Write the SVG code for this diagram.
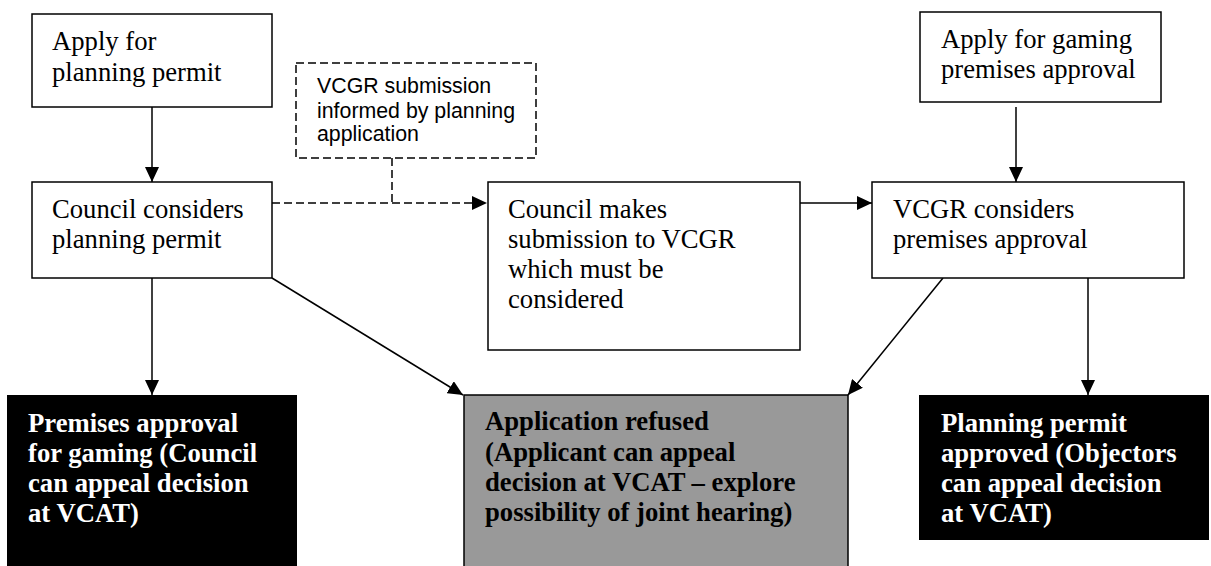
<svg xmlns="http://www.w3.org/2000/svg" width="1211" height="566" viewBox="0 0 1211 566">
<defs>
<marker id="ah" markerUnits="userSpaceOnUse" markerWidth="15" markerHeight="14" refX="15" refY="7" orient="auto">
<path d="M0,0 L15,7 L0,14 z" fill="#000"/>
</marker>
<style>
.box{fill:#fff;stroke:#000;stroke-width:1.5}
.dbox{fill:#fff;stroke:#000;stroke-width:1.5;stroke-dasharray:8 4}
.blk{fill:#000}
.gry{fill:#999;stroke:#000;stroke-width:1.5}
.t{font-family:"Liberation Serif","Times New Roman",serif;font-size:26.67px;fill:#000}
.tb{font-family:"Liberation Serif","Times New Roman",serif;font-size:26.67px;font-weight:bold}
.w{fill:#fff}
.k{fill:#000}
.s{font-family:"Liberation Sans",Arial,sans-serif;font-size:21.33px;fill:#000}
.c{fill:none;stroke:#000;stroke-width:1.5}
.cd{fill:none;stroke:#000;stroke-width:1.5;stroke-dasharray:8 4}
</style>
</defs>
<rect width="1211" height="566" fill="#fff"/>
<g id="connectors">
<line class="c" x1="152" y1="107" x2="152" y2="182" marker-end="url(#ah)"/>
<line class="c" x1="1016" y1="107" x2="1016" y2="182" marker-end="url(#ah)"/>
<line class="cd" x1="392" y1="158" x2="392" y2="203"/>
<line class="cd" x1="272" y1="203" x2="487" y2="203" marker-end="url(#ah)"/>
<line class="c" x1="800" y1="203" x2="872" y2="203" marker-end="url(#ah)"/>
<line class="c" x1="152" y1="278" x2="152" y2="395" marker-end="url(#ah)"/>
<line class="c" x1="272" y1="278" x2="463" y2="395" marker-end="url(#ah)"/>
<line class="c" x1="943" y1="278" x2="848" y2="395" marker-end="url(#ah)"/>
<line class="c" x1="1088" y1="278" x2="1088" y2="395" marker-end="url(#ah)"/>
</g>
<g id="apply-planning">
<rect class="box" x="32" y="14" width="240" height="93"/>
<text class="t" x="52" y="50">Apply for</text>
<text class="t" x="52" y="81">planning permit</text>
</g>
<g id="vcgr-submission-note">
<rect class="dbox" x="296" y="63" width="240" height="95"/>
<text class="s" x="317" y="93">VCGR submission</text>
<text class="s" x="317" y="118">informed by planning</text>
<text class="s" x="317" y="141">application</text>
</g>
<g id="apply-gaming">
<rect class="box" x="920" y="12" width="241" height="90"/>
<text class="t" x="941" y="48">Apply for gaming</text>
<text class="t" x="941" y="78">premises approval</text>
</g>
<g id="council-considers">
<rect class="box" x="32" y="182" width="240" height="96"/>
<text class="t" x="52" y="218">Council considers</text>
<text class="t" x="52" y="248">planning permit</text>
</g>
<g id="council-submission">
<rect class="box" x="488" y="182" width="312" height="168"/>
<text class="t" x="508" y="218">Council makes</text>
<text class="t" x="508" y="248">submission to VCGR</text>
<text class="t" x="508" y="278">which must be</text>
<text class="t" x="508" y="308">considered</text>
</g>
<g id="vcgr-considers">
<rect class="box" x="872" y="182" width="312" height="96"/>
<text class="t" x="893" y="218">VCGR considers</text>
<text class="t" x="893" y="248">premises approval</text>
</g>
<g id="premises-approval">
<rect class="blk" x="7" y="395" width="290" height="171"/>
<text class="tb w" x="28" y="432">Premises approval</text>
<text class="tb w" x="28" y="462">for gaming (Council</text>
<text class="tb w" x="28" y="492">can appeal decision</text>
<text class="tb w" x="28" y="522">at VCAT)</text>
</g>
<g id="application-refused">
<rect class="gry" x="464" y="395" width="384" height="172"/>
<text class="tb k" x="485" y="430">Application refused</text>
<text class="tb k" x="485" y="461">(Applicant can appeal</text>
<text class="tb k" x="485" y="491">decision at VCAT – explore</text>
<text class="tb k" x="485" y="521">possibility of joint hearing)</text>
</g>
<g id="permit-approved">
<rect class="blk" x="919" y="395" width="290" height="145"/>
<text class="tb w" x="941" y="432">Planning permit</text>
<text class="tb w" x="941" y="462">approved (Objectors</text>
<text class="tb w" x="941" y="492">can appeal decision</text>
<text class="tb w" x="941" y="522">at VCAT)</text>
</g>
</svg>
